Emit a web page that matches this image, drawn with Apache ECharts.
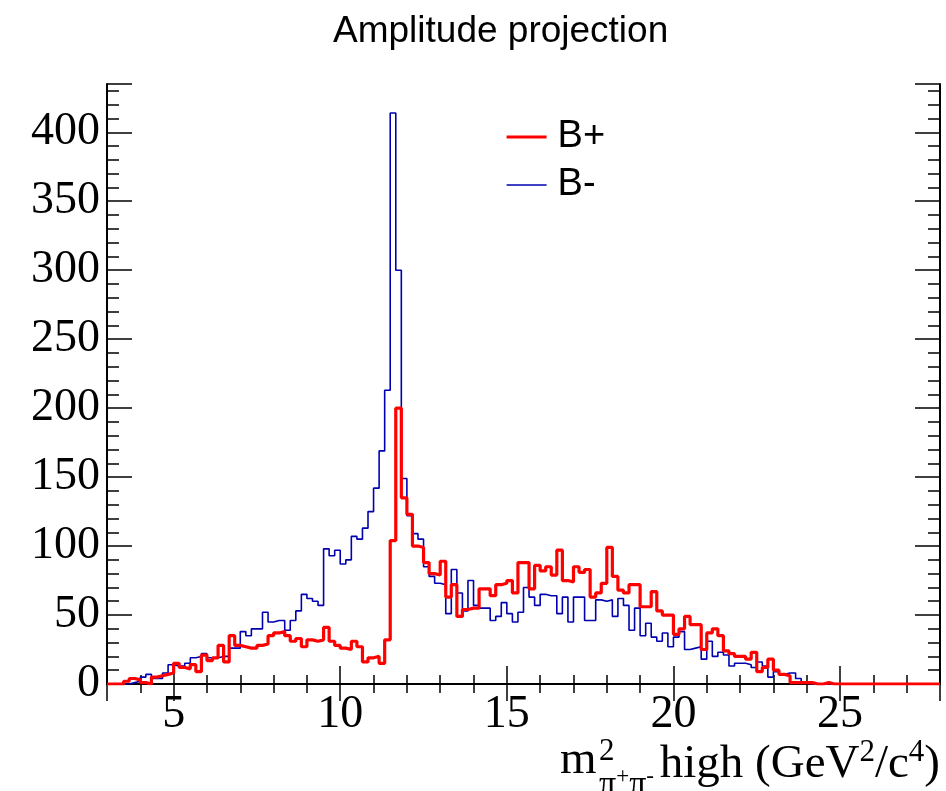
<!DOCTYPE html>
<html>
<head>
<meta charset="utf-8">
<script src="https://cdn.jsdelivr.net/npm/echarts@6/dist/echarts.min.js"></script>
<style>
html,body{margin:0;padding:0;background:#fff;}
#chart{width:946px;height:791px;}
</style>
</head>
<body>
<div id="chart"></div>
<script>
// Histogram binning: 150 bins from 3 to 28 GeV^2/c^4
const X_MIN = 3;
const X_MAX = 28;
const N_BINS = 150;

// B+ bin contents (red)
const bPlus = [
  0, 0, 0, 2, 4, 3, 1, 0, 5, 6,
  7, 8, 15, 12, 11, 14, 9, 21, 17, 19,
  28, 16, 35, 28, 27, 26, 26, 28, 29, 35,
  37, 38, 35, 31, 33, 27, 32, 31, 32, 41,
  31, 28, 26, 25, 31, 27, 16, 19, 20, 15,
  32, 104, 200, 135, 123, 100, 99, 88, 80, 79,
  89, 63, 72, 49, 54, 55, 55, 69, 69, 64,
  72, 73, 75, 66, 88, 88, 69, 86, 82, 85,
  79, 97, 75, 74, 85, 81, 83, 63, 66, 73,
  99, 78, 68, 66, 72, 72, 56, 56, 67, 53,
  50, 50, 36, 40, 49, 43, 43, 25, 37, 40,
  35, 24, 22, 20, 20, 18, 23, 9, 12, 18,
  10, 7, 6, 1, 1, 1, 1, 0, 0, 1,
  0, 0, 0, 0, 0, 0, 0, 0, 0, 0,
  0, 0, 0, 0, 0, 0, 0, 0, 0, 0
];

// B- bin contents (blue)
const bMinus = [
  0, 0, 0, 0, 1, 2, 5, 7, 4, 4,
  8, 14, 13, 13, 15, 19, 20, 22, 19, 19,
  20, 20, 26, 26, 38, 35, 40, 40, 52, 45,
  46, 46, 39, 46, 53, 65, 62, 60, 57, 98,
  93, 97, 87, 90, 107, 105, 113, 125, 142, 169,
  213, 414, 300, 149, 122, 109, 105, 85, 78, 73,
  72, 51, 83, 66, 53, 75, 57, 55, 55, 46,
  49, 59, 51, 45, 52, 70, 63, 57, 65, 64,
  64, 51, 63, 45, 63, 63, 46, 46, 61, 60,
  61, 49, 62, 57, 39, 55, 35, 44, 34, 31,
  37, 27, 34, 38, 25, 26, 27, 18, 31, 20,
  23, 21, 13, 15, 15, 14, 12, 16, 13, 5,
  9, 7, 8, 8, 4, 1, 0, 0, 0, 0,
  0, 0, 0, 0, 0, 0, 0, 0, 0, 0,
  0, 0, 0, 0, 0, 0, 0, 0, 0, 0
];

const seriesNames = ['B+', 'B-'];
const titleText = 'Amplitude projection';
const Y_MAX = 435;
const yMajorStep = 50;
const yMinorStep = 10;
const xMinorStep = 1;

const RED = '#ff0000';
const BLUE = '#0000b0';
const RED_W = 3.2;
const BLUE_W = 1.6;

function histData(vals) {
  const w = (X_MAX - X_MIN) / N_BINS;
  const d = vals.map((v, i) => [X_MIN + i * w, v]);
  d.push([X_MAX, vals[vals.length - 1]]);
  return d;
}

const chart = echarts.init(document.getElementById('chart'), null, {renderer: 'canvas'});
const frameLine = {show: true, lineStyle: {color: '#000', width: 2}};
const noLine = {show: false};
const serif = 'Liberation Serif';

function xAx(pos, step, tickLen, labels) {
  const a = {
    type: 'value', position: pos, min: X_MIN, max: X_MAX,
    axisLine: labels !== null ? frameLine : noLine,
    axisTick: {show: true, inside: true, length: tickLen, lineStyle: {color: '#000', width: 1.5}},
    splitLine: {show: false},
    axisLabel: {show: false},
    axisPointer: {show: false}
  };
  if (step) a.interval = step; else a.splitNumber = 5;
  if (labels) {
    a.axisLabel = {show: true, fontFamily: serif, fontSize: 46, color: '#000', margin: 8,
      formatter: v => (v % 5 === 0 ? String(v) : '')};
  }
  return a;
}
function yAx(pos, step, tickLen, labels) {
  const a = {
    type: 'value', position: pos, min: 0, max: Y_MAX, interval: step,
    axisLine: labels !== null ? frameLine : noLine,
    axisTick: {show: true, inside: true, length: tickLen, lineStyle: {color: '#000', width: 1.5}},
    splitLine: {show: false},
    axisLabel: {show: false},
    axisPointer: {show: false}
  };
  if (labels) {
    a.axisLabel = {show: true, fontFamily: serif, fontSize: 46, color: '#000', margin: 7,
      formatter: v => (v % 50 === 0 ? String(v) : '')};
  }
  return a;
}

const option = {
  animation: false,
  backgroundColor: '#fff',
  title: {
    text: titleText, left: 328, top: 8,
    textStyle: {fontFamily: 'Liberation Sans', fontSize: 37, fontWeight: 'normal', color: '#000'}
  },
  grid: {left: 107, right: 6, top: 84, bottom: 107, containLabel: false},
  legend: {
    orient: 'vertical', left: 505, top: 118, padding: 0,
    itemWidth: 40, itemHeight: 36, itemGap: 10,
    itemStyle: {color: 'rgba(0,0,0,0)', borderWidth: 0, opacity: 0},
    textStyle: {fontFamily: 'Liberation Sans', fontSize: 38, color: '#000', lineHeight: 36, padding: [0, 0, 0, 6]},
    data: [
      {name: seriesNames[0], lineStyle: {color: RED, width: RED_W}},
      {name: seriesNames[1], lineStyle: {color: BLUE, width: BLUE_W}}
    ]
  },
  xAxis: [
    xAx('bottom', null, 18, true),
    xAx('bottom', xMinorStep, 9, null),
    xAx('top', null, 17, false),
    xAx('top', xMinorStep, 9, null)
  ],
  yAxis: [
    yAx('left', yMajorStep, 25, true),
    yAx('left', yMinorStep, 12, null),
    yAx('right', yMajorStep, 25, false),
    yAx('right', yMinorStep, 12, null)
  ],
  series: [
    {
      name: seriesNames[1], type: 'line', step: 'end', symbol: 'none',
      xAxisIndex: 0, yAxisIndex: 0, z: 3,
      lineStyle: {color: BLUE, width: BLUE_W},
      itemStyle: {color: BLUE},
      data: histData(bMinus)
    },
    {
      name: seriesNames[0], type: 'line', step: 'end', symbol: 'none',
      xAxisIndex: 0, yAxisIndex: 0, z: 4,
      lineStyle: {color: RED, width: RED_W},
      itemStyle: {color: RED},
      data: histData(bPlus)
    }
  ],
  graphic: [
    {type: 'text', left: 560, top: 737, z: 10,
      style: {text: 'm', font: '47px "Liberation Serif"', fill: '#000'}},
    {type: 'text', left: 599, top: 736, z: 10,
      style: {text: '2', font: '31px "Liberation Serif"', fill: '#000'}},
    {type: 'text', left: 599, top: 765, z: 10,
      style: {text: '{p|π}{q|+}{p|π}{q|-}', fill: '#000',
        rich: {p: {fontFamily: serif, fontSize: 34, lineHeight: 37, verticalAlign: 'bottom'},
               q: {fontFamily: serif, fontSize: 23, lineHeight: 20, verticalAlign: 'top'}}}},
    {type: 'text', right: 6, top: 737, z: 10,
      style: {text: '{n|high (GeV}{s|2}{n|/c}{s|4}{n|)}', fill: '#000',
        rich: {n: {fontFamily: serif, fontSize: 47, lineHeight: 51, verticalAlign: 'bottom'},
               s: {fontFamily: serif, fontSize: 31, lineHeight: 26, verticalAlign: 'top'}}}}
  ]
};
chart.setOption(option);
</script>
</body>
</html>
